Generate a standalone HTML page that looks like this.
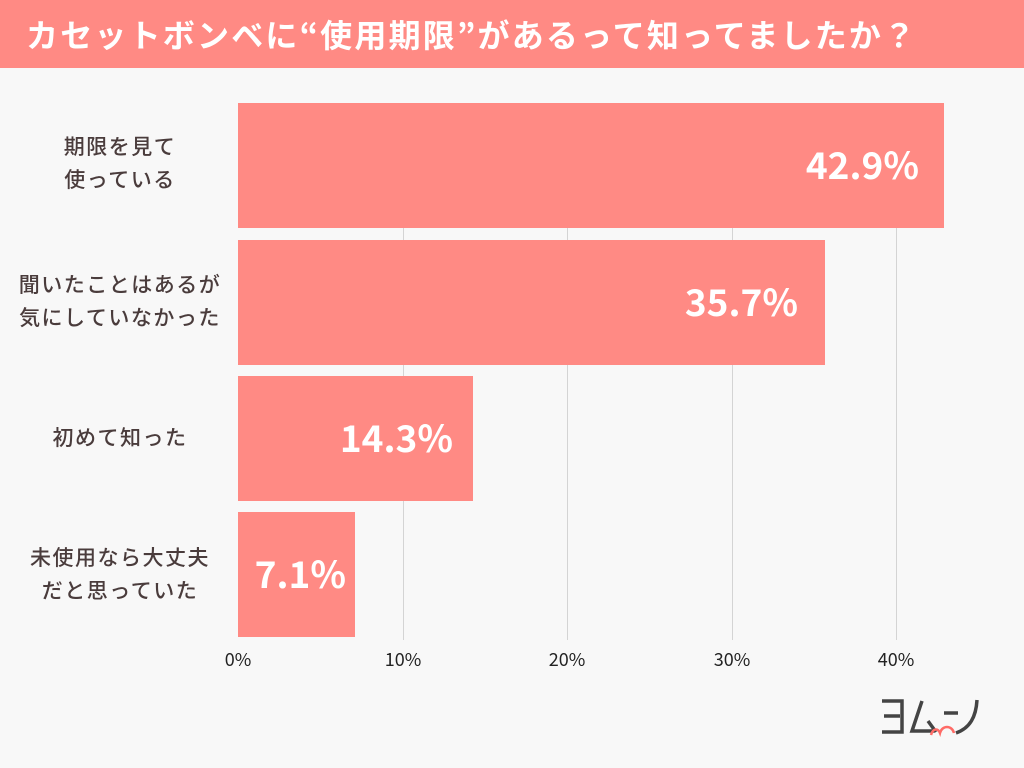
<!DOCTYPE html>
<html><head><meta charset="utf-8"><style>
body{margin:0;width:1024px;height:768px;background:#f8f8f8;font-family:"Liberation Sans","Noto Sans CJK JP",sans-serif;position:relative;overflow:hidden}
.t{position:absolute;left:0;top:0;width:1024px;height:68px;background:#ff8a84;color:#fff;font-weight:bold;font-size:32px;line-height:68px;padding-left:26px;box-sizing:border-box;letter-spacing:2.2px;font-family:"Noto Sans CJK JP",sans-serif}
.g{position:absolute;top:103px;height:537px;width:1px;background:#d4d4d4}
.b{position:absolute;left:238px;height:125px;background:#ff8a84}
.v{position:absolute;color:#fff;font-weight:bold;font-size:37px;text-align:right;line-height:125px;font-family:"Noto Sans CJK JP",sans-serif}
.l{position:absolute;color:#4a3c3c;font-size:21px;line-height:33px;text-align:center;width:240px;left:0;letter-spacing:1.5px;font-family:"Noto Sans CJK JP",sans-serif;font-weight:500}
.x{position:absolute;top:646px;font-size:18px;color:#222;width:60px;text-align:center;font-family:"Noto Sans CJK JP",sans-serif}
</style></head><body>
<div class="t">カセットボンベに“使用期限”があるって知ってましたか？</div>
<div class="g" style="left:403px"></div><div class="g" style="left:567px"></div><div class="g" style="left:732px"></div><div class="g" style="left:896px"></div>
<div class="b" style="top:103px;width:706px"></div><div class="v" style="top:101px;left:238px;width:681px">42.9%</div>
<div class="b" style="top:240px;width:587px"></div><div class="v" style="top:238px;left:238px;width:560px">35.7%</div>
<div class="b" style="top:376px;width:235px"></div><div class="v" style="top:374px;left:238px;width:215px">14.3%</div>
<div class="b" style="top:512px;width:117px"></div><div class="v" style="top:510px;left:238px;width:108px">7.1%</div>
<div class="l" style="top:130px">期限を見て<br>使っている</div>
<div class="l" style="top:268px">聞いたことはあるが<br>気にしていなかった</div>
<div class="l" style="top:421px">初めて知った</div>
<div class="l" style="top:541px">未使用なら大丈夫<br>だと思っていた</div>
<div class="x" style="left:208px">0%</div><div class="x" style="left:373px">10%</div><div class="x" style="left:537px">20%</div><div class="x" style="left:702px">30%</div><div class="x" style="left:866px">40%</div>
<svg style="position:absolute;left:878px;top:695px" width="110" height="45" viewBox="0 0 110 45">
<g fill="none" stroke="#444" stroke-width="3.5">
<path d="M4 6H24V37H4M6 21H22"/>
<path d="M44 6L34 36H56M50 26L58 37"/>
<path d="M66 18H80"/>
<path d="M99 5C98 22 92 33 78 38"/>
</g>
<path d="M53 40C55 33 60 33 62 38C64 30 74 30 76 38" fill="none" stroke="#ff6b66" stroke-width="2.5"/>
</svg>
</body></html>
